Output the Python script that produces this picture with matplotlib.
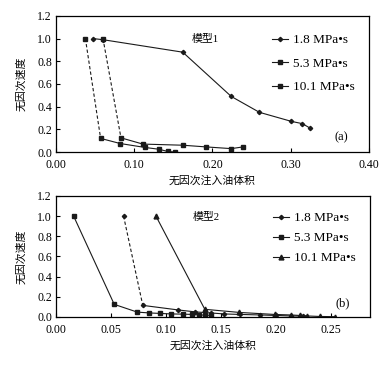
import matplotlib
matplotlib.use("Agg")
import matplotlib.pyplot as plt

plt.rcParams['font.family'] = ['Liberation Serif', 'Noto Sans CJK SC']
plt.rcParams['axes.unicode_minus'] = False

labels = ['1.8 MPa\u2022s', '5.3 MPa\u2022s', '10.1 MPa\u2022s']

# model 1 (a)
a18_x = [0.047, 0.060, 0.162, 0.224, 0.260, 0.301, 0.315, 0.325]
a18_y = [1.0, 0.99, 0.88, 0.49, 0.35, 0.27, 0.25, 0.21]
a53_x = [0.0375, 0.057, 0.082, 0.114, 0.131, 0.143, 0.152]
a53_y = [1.0, 0.12, 0.075, 0.04, 0.025, 0.005, 0.0]
a101_x = [0.060, 0.083, 0.111, 0.162, 0.192, 0.224, 0.239]
a101_y = [1.0, 0.125, 0.07, 0.06, 0.045, 0.03, 0.045]

# model 2 (b)
b18_x = [0.0615, 0.079, 0.111, 0.127, 0.141, 0.153, 0.168, 0.186, 0.200, 0.214, 0.225]
b18_y = [1.0, 0.115, 0.07, 0.05, 0.04, 0.03, 0.025, 0.02, 0.015, 0.01, 0.008]
b53_x = [0.016, 0.053, 0.074, 0.085, 0.095, 0.105, 0.116, 0.124, 0.130, 0.136, 0.141]
b53_y = [1.0, 0.125, 0.048, 0.04, 0.035, 0.03, 0.028, 0.025, 0.02, 0.018, 0.015]
b101_x = [0.091, 0.1355, 0.167, 0.199, 0.214, 0.222, 0.229, 0.240, 0.254]
b101_y = [1.0, 0.076, 0.045, 0.025, 0.02, 0.015, 0.01, 0.005, 0.003]

xticks_a = [0.0, 0.1, 0.2, 0.3, 0.4]
xticks_b = [0.0, 0.05, 0.10, 0.15, 0.20, 0.25]
yticks = [0.0, 0.2, 0.4, 0.6, 0.8, 1.0, 1.2]

col = '#1a1a1a'
fs = 8.5


def series(ax, x, y, marker, ms, dash_first, label):
    # first segment (the steep drop) drawn separately
    ls0 = (0, (3, 2)) if dash_first else '-'
    ax.plot(x[:2], y[:2], color=col, lw=0.8, ls=ls0)
    ax.plot(x[1:], y[1:], color=col, lw=0.8)
    ax.plot(x, y, ls='none', marker=marker, ms=ms, color=col)
    ax.plot([], [], color=col, lw=0.8, marker=marker, ms=ms, label=label)


def style(ax, xticks, xfmt, xmax, tag, model, anchor_y, lsp):
    ax.set_xlim(0, xmax)
    ax.set_ylim(0, 1.2)
    ax.set_xticks(xticks)
    ax.set_xticklabels([xfmt % v for v in xticks])
    ax.set_yticks(yticks)
    ax.set_yticklabels(['%.1f' % v for v in yticks])
    ax.tick_params(direction='in', length=3, width=0.8, labelsize=fs, pad=3)
    ax.tick_params(axis='x', pad=5)
    for s in ax.spines.values():
        s.set_linewidth(0.9)
    ax.set_xlabel('无因次注入油体积', fontsize=7.8, labelpad=3)
    ax.set_ylabel('无因次速度', fontsize=7.8, labelpad=8)
    ax.text(0.435, 0.83, model, transform=ax.transAxes, fontsize=7.8,
            ha='left', va='center')
    ax.text(0.89, 0.11, tag, transform=ax.transAxes, fontsize=9,
            ha='left', va='center')
    ax.legend(loc='upper left', bbox_to_anchor=(0.69, anchor_y), frameon=False,
              fontsize=9.5, handlelength=1.2, handletextpad=0.4,
              labelspacing=lsp, borderpad=0, borderaxespad=0)


fig = plt.figure(figsize=(3.92, 3.69), dpi=100)
ax1 = fig.add_axes([0.143, 0.588, 0.798, 0.369])
ax2 = fig.add_axes([0.143, 0.141, 0.801, 0.328])

series(ax1, a18_x, a18_y, 'D', 2.2, False, labels[0])
series(ax1, a53_x, a53_y, 's', 3.5, True, labels[1])
series(ax1, a101_x, a101_y, 's', 3.5, True, labels[2])
style(ax1, xticks_a, '%.2f', 0.4, '(a)', '模型1', 0.865, 0.85)

series(ax2, b18_x, b18_y, 'D', 2.2, True, labels[0])
series(ax2, b53_x, b53_y, 's', 3.5, False, labels[1])
series(ax2, b101_x, b101_y, '^', 3.5, False, labels[2])
style(ax2, xticks_b, '%.2f', 0.286, '(b)', '模型2', 0.868, 0.6)

fig.savefig('out.png', dpi=100)
